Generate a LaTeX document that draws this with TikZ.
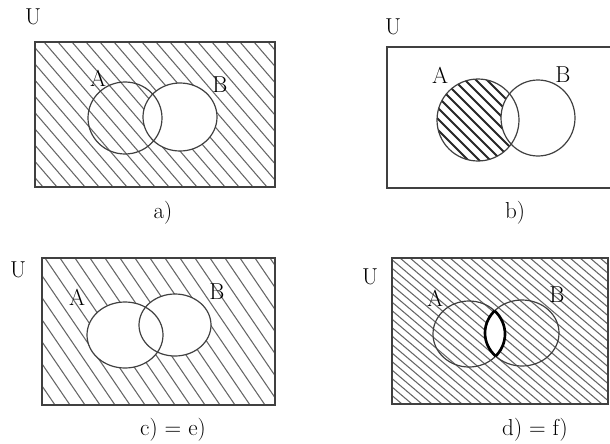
\documentclass[tikz,border=0pt]{standalone}
\usepackage{xcolor}
\usepackage{tikz}

\tikzset{
  pencil/.style={draw=black!75, line width=0.9},
  hatch/.style={draw=black!60, line width=0.8},
  dark hatch/.style={draw=black!85, line width=1.4},
  lens/.style={draw=black, line width=2},
  lbl/.style={inner sep=0.75pt, font=\LARGE},
}

\begin{document}
\begin{tikzpicture}[x=0.75pt,y=0.75pt,yscale=-1,xscale=1]
\useasboundingbox (0,0) rectangle (610,443);

%%% a) complement of B
% Hatching
\begin{scope}[even odd rule]
\clip (35,42) rectangle (275,187) (180,117) ellipse (37 and 34);
\foreach \s in {-96,-82,...,276}
  \draw[hatch] (\s,42) -- ++(125,145);
\end{scope}
%Shape: Rectangle
\draw[pencil] (35,42) rectangle (275,187);
%Shape: Ellipse A
\draw[pencil] (125,118) ellipse (37 and 36);
%Shape: Ellipse B
\draw[pencil] (180,117) ellipse (37 and 34);
% Text Node
\node[lbl] (Ua) at (33,17) {U};
\node[lbl] (Aa) at (98,78) {A};
\node[lbl] (Ba) at (220,85) {B};
\node[lbl] (capa) at (163,213) {a)};

%%% b) A without B
% Hatching
\begin{scope}[even odd rule]
\clip (478,120) ellipse (41 and 41);
\clip (387,47) rectangle (610,188) (538,118) ellipse (37 and 38);
\foreach \s in {350,361,...,520}
  \draw[dark hatch] (\s,75) -- ++(90,90);
\end{scope}
%Shape: open Rectangle
\draw[pencil] (610,47) -- (387,47) -- (387,188) -- (610,188);
%Shape: Ellipse A
\draw[pencil] (478,120) ellipse (41 and 41);
%Shape: Ellipse B
\draw[pencil] (538,118) ellipse (37 and 38);
% Text Node
\node[lbl] (Ub) at (393,27) {U};
\node[lbl] (Ab) at (440,75) {A};
\node[lbl] (Bb) at (563,75) {B};
\node[lbl] (capb) at (515,213) {b)};

%%% c) outside A and B
% Hatching
\begin{scope}[even odd rule]
\clip (42,258) rectangle (275,405) (125,335) ellipse (38 and 33);
\clip (42,258) rectangle (275,405) (175,325) ellipse (36 and 31);
\foreach \s in {-60,-45,...,275}
  \draw[hatch] (\s,258) -- ++(100,147);
\end{scope}
%Shape: Rectangle
\draw[pencil] (42,258) rectangle (275,405);
%Shape: Ellipse A
\draw[pencil] (125,335) ellipse (38 and 33);
%Shape: Ellipse B
\draw[pencil] (175,325) ellipse (36 and 31);
% Text Node
\node[lbl] (Uc) at (18,270) {U};
\node[lbl] (Ac) at (77,297) {A};
\node[lbl] (Bc) at (217,292) {B};
\node[lbl] (capc) at (173,430) {c) = e)};

%%% d) all but A and B
% Hatching
\begin{scope}
\clip (392,258) rectangle (608,404);
\foreach \s in {220,230,...,608}
  \draw[hatch] (\s,258) -- ++(172,146);
\end{scope}
% blank lens
\begin{scope}
\clip (469,334) ellipse (36 and 33);
\fill[white] (522,333) ellipse (37 and 33);
\end{scope}
%Shape: Rectangle
\draw[pencil] (392,258) rectangle (608,404);
%Shape: Ellipse A
\draw[pencil] (469,334) ellipse (36 and 33);
%Shape: Ellipse B
\draw[pencil] (522,333) ellipse (37 and 33);
%Shape: bold lens
\begin{scope}
\clip (469,334) ellipse (36 and 33);
\draw[lens] (522,333) ellipse (37 and 33);
\end{scope}
\begin{scope}
\clip (522,333) ellipse (37 and 33);
\draw[lens] (469,334) ellipse (36 and 33);
\end{scope}
% Text Node
\node[lbl] (Ud) at (370,277) {U};
\node[lbl] (Ad) at (435,298) {A};
\node[lbl] (Bd) at (557,295) {B};
\node[lbl] (capd) at (535,430) {d) = f)};

\end{tikzpicture}
\end{document}
